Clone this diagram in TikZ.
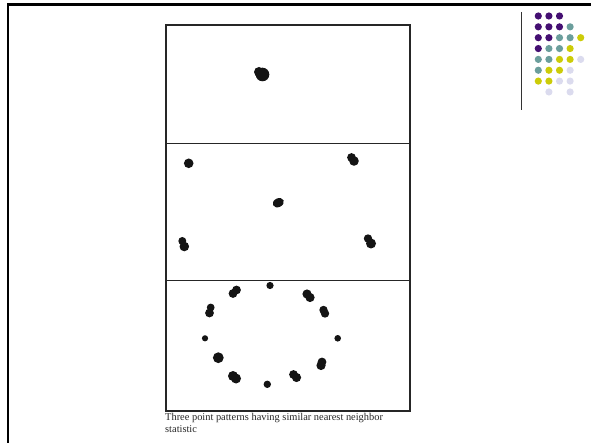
\documentclass[tikz,border=0pt]{standalone}
\usepackage{fontspec}
\setmainfont{Liberation Serif}
\usepackage{xcolor}
\usetikzlibrary{positioning}

\definecolor{dotpurple}{HTML}{440F72}
\definecolor{dotteal}{HTML}{6B9E9C}
\definecolor{dotyellow}{HTML}{CCCC08}
\definecolor{dotlilac}{HTML}{DBDBEE}

\begin{document}
\begin{tikzpicture}[
    x=1pt, y=-1pt,
    frame/.style={line width=2.6pt, black},
    panel/.style={draw=black!85, line width=1.2pt},
    blob/.style={fill=black!92}
]
\useasboundingbox (0,0) rectangle (591,443);

% slide edge
\draw[frame] (8,443) -- (8,4.6) -- (591,4.6);

% decoration in the corner
\draw[black!80, line width=0.8pt] (521.7,12) -- (521.7,110);
\foreach \c/\r/\col in {1/1/dotpurple, 2/1/dotpurple, 3/1/dotpurple,
    1/2/dotpurple, 2/2/dotpurple, 3/2/dotpurple, 4/2/dotteal,
    1/3/dotpurple, 2/3/dotpurple, 3/3/dotteal, 4/3/dotteal, 5/3/dotyellow,
    1/4/dotpurple, 2/4/dotteal, 3/4/dotteal, 4/4/dotyellow,
    1/5/dotteal, 2/5/dotteal, 3/5/dotyellow, 4/5/dotyellow, 5/5/dotlilac,
    1/6/dotteal, 2/6/dotyellow, 3/6/dotyellow, 4/6/dotlilac,
    1/7/dotyellow, 2/7/dotyellow, 3/7/dotlilac, 4/7/dotlilac,
    2/8/dotlilac, 4/8/dotlilac}
  \fill[\col] ({527.7+10.6*\c}, {5.15+10.85*\r}) circle (3.6);

% the three panels
\draw[panel] (166,25) rectangle (410,411);
\draw[panel] (166,143.5) -- (410,143.5);
\draw[panel] (166,280.5) -- (410,280.5);

% panel 1: one cluster
\fill[blob] (262.5,74.5) circle (6.8);
\fill[blob] (259,72) circle (5);

% panel 2: five points
\fill[blob] (188.7,163.3) circle (4.8);
\fill[blob] (351.5,157.5) circle (4.4);
\fill[blob] (354,161) circle (4.8);
\fill[blob, rotate around={25:(278.3,202.7)}] (278.3,202.7) ellipse (5.8 and 4.4);
\fill[blob] (182.3,241) circle (4);
\fill[blob] (184.3,246.5) circle (4.8);
\fill[blob] (368,238.5) circle (4.2);
\fill[blob] (371,243.5) circle (5);

% panel 3: a ring of points
\fill[blob] (270,285.5) circle (3.6);
\fill[blob] (236.5,290) circle (4.4);
\fill[blob] (233,293.5) circle (4.4);
\fill[blob] (307,294) circle (4.6);
\fill[blob] (310,297.5) circle (4.6);
\fill[blob] (210.7,307.5) circle (3.9);
\fill[blob] (209.5,313) circle (4.4);
\fill[blob] (323.5,310) circle (4.2);
\fill[blob] (325,313.5) circle (4.2);
\fill[blob] (205,338.3) circle (3.1);
\fill[blob] (337.7,338.3) circle (3.3);
\fill[blob] (218.3,357.7) circle (5.4);
\fill[blob] (322,362) circle (4.4);
\fill[blob] (321,365.5) circle (4.6);
\fill[blob] (233,376) circle (5);
\fill[blob] (236,378.5) circle (5);
\fill[blob] (293.5,374.5) circle (4.4);
\fill[blob] (296.5,377.5) circle (4.6);
\fill[blob] (267.3,384.3) circle (3.7);

% caption
\node[anchor=north west, inner sep=0pt, align=left, text=black!85,
      font=\fontsize{10.4}{11.8}\selectfont] (caption) at (165,413)
  {Three point patterns having similar nearest neighbor\\statistic};
\end{tikzpicture}
\end{document}
